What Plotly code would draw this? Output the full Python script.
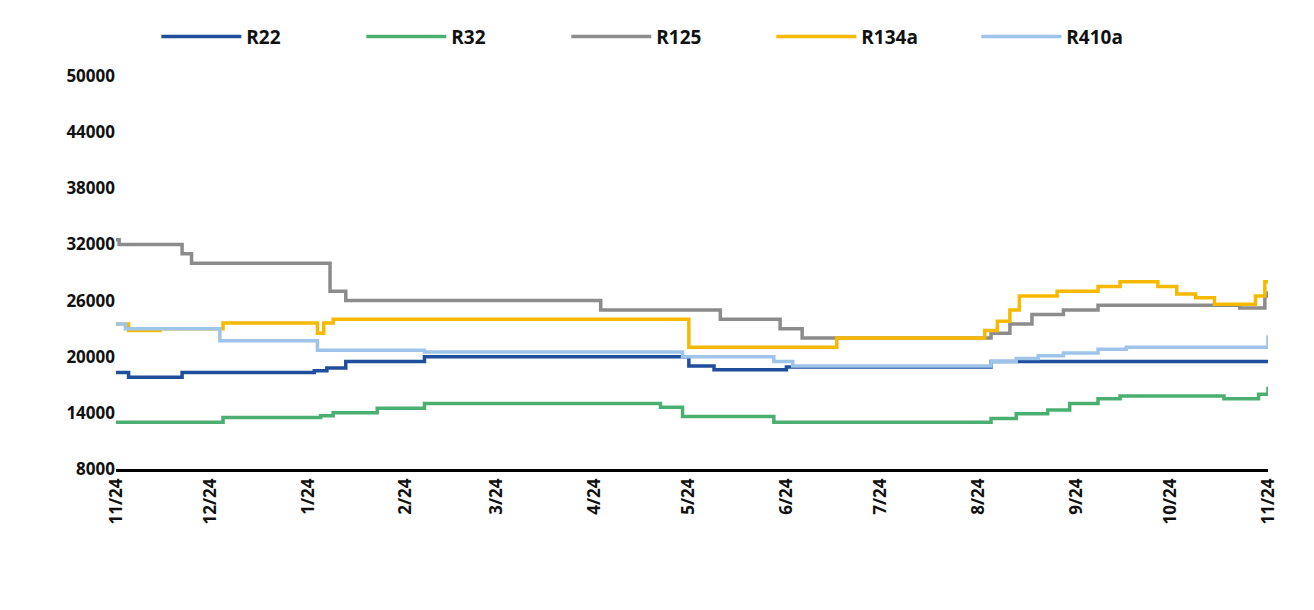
import plotly.graph_objects as go

tick_vals = ["2023-11-24","2023-12-24","2024-01-24","2024-02-24","2024-03-24","2024-04-24",
             "2024-05-24","2024-06-24","2024-07-24","2024-08-24","2024-09-24","2024-10-24","2024-11-24"]
tick_text = ["11/24","12/24","1/24","2/24","3/24","4/24","5/24","6/24","7/24","8/24","9/24","10/24","11/24"]
y_ticks = [8000,14000,20000,26000,32000,38000,44000,50000]

r22_d = ["2023-11-24","2023-11-28","2023-12-15","2024-01-26","2024-01-30","2024-02-05","2024-03-01","2024-05-24","2024-06-01","2024-06-24","2024-08-28","2024-11-24"]
r22_v = [18300,17800,18300,18500,18800,19500,20000,19000,18600,18900,19500,19500]

r32_d = ["2023-11-24","2023-12-28","2024-01-28","2024-02-01","2024-02-15","2024-03-01","2024-05-15","2024-05-22","2024-06-20","2024-08-28","2024-09-05","2024-09-15","2024-09-22","2024-10-01","2024-10-08","2024-11-10","2024-11-21","2024-11-24"]
r32_v = [13000,13500,13700,14000,14500,15000,14600,13600,13000,13400,13900,14300,15000,15500,15800,15500,16000,16800]

r125_d = ["2023-11-24","2023-11-25","2023-12-15","2023-12-18","2024-01-31","2024-02-05","2024-04-26","2024-06-03","2024-06-22","2024-06-29","2024-08-28","2024-09-03","2024-09-10","2024-09-20","2024-10-01","2024-11-15","2024-11-23","2024-11-24"]
r125_v = [32500,32000,31000,30000,27000,26000,25000,24000,23000,22000,22500,23500,24500,25000,25500,25200,26500,27000]

r134_d = ["2023-11-24","2023-11-28","2023-12-08","2023-12-28","2024-01-27","2024-01-29","2024-02-01","2024-05-24","2024-07-10","2024-08-26","2024-08-30","2024-09-03","2024-09-06","2024-09-09","2024-09-18","2024-10-01","2024-10-08","2024-10-20","2024-10-26","2024-11-01","2024-11-07","2024-11-20","2024-11-23","2024-11-24"]
r134_v = [23500,22800,23000,23600,22500,23600,24000,21000,22000,22800,23800,25000,26500,26500,27000,27500,28000,27500,26700,26300,25600,26500,28000,28000]

r410_d = ["2023-11-24","2023-11-27","2023-12-27","2024-01-27","2024-03-01","2024-05-22","2024-06-20","2024-06-26","2024-08-28","2024-09-05","2024-09-12","2024-09-20","2024-10-01","2024-10-10","2024-11-21","2024-11-24"]
r410_v = [23500,23000,21700,20700,20500,20000,19500,19000,19500,19800,20100,20400,20800,21000,21000,22300]

series = [("R22", r22_d, r22_v, "#1f4e9c"), ("R32", r32_d, r32_v, "#4caf72"),
          ("R125", r125_d, r125_v, "#8c8c8c"), ("R134a", r134_d, r134_v, "#f7b900"),
          ("R410a", r410_d, r410_v, "#9ec4ea")]

fig = go.Figure()
for name, d, v, c in series:
    fig.add_trace(go.Scatter(x=d, y=v, name=name, mode="lines",
                             line=dict(color=c, width=3.5, shape="hv")))

fig.update_layout(
    width=1314, height=610, paper_bgcolor="white", plot_bgcolor="white",
    margin=dict(l=108, r=54, t=68, b=149, autoexpand=False),
    font=dict(family="Open Sans", size=17, color="#111"),
    legend=dict(orientation="h", x=0.035, xanchor="left", y=1.1, yanchor="middle",
                font=dict(size=19, family="Open Sans", weight="bold"), itemwidth=80,
                entrywidth=110, entrywidthmode="pixels"),
    xaxis=dict(range=["2023-11-24","2024-11-24"], tickvals=tick_vals, ticktext=tick_text,
               tickangle=-90, showgrid=False, showline=True, linecolor="black", linewidth=2.5,
               ticks="", tickfont=dict(size=17, weight="bold")),
    yaxis=dict(range=[8000,50000], tickvals=y_ticks, ticktext=[str(t) for t in y_ticks],
               showgrid=False, zeroline=False, ticks="", tickfont=dict(size=17, weight="bold")),
)
fig.write_html("out.html")
